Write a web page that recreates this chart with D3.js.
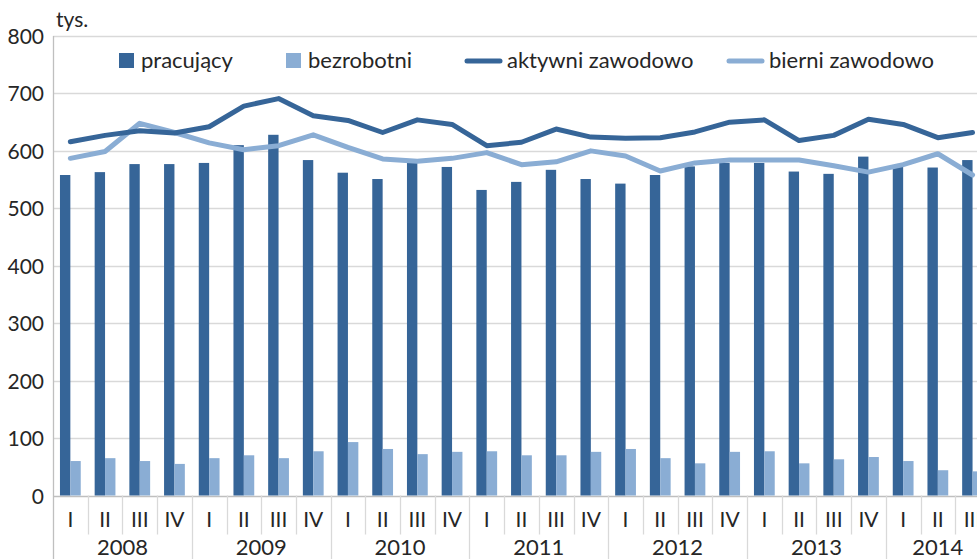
<!DOCTYPE html>
<html>
<head>
<meta charset="utf-8">
<script src="https://cdn.jsdelivr.net/npm/d3@7"></script>
<style>
  body { margin: 0; background: #fff; }
  svg { display: block; font-family: Lato, "Open Sans", sans-serif; }
</style>
</head>
<body>
<div id="vis"></div>
<script>
// frame
const FRAME_WIDTH = 977;
const FRAME_HEIGHT = 559;
const MARGINS = {left: 53, top: 36, bottom: 63};
const BAND = 34.7;

// data (tys.)
const years = ["2008", "2009", "2010", "2011", "2012", "2013", "2014"];
const quarters = ["I", "II", "III", "IV"];
const categories = [];
years.forEach(y => quarters.forEach(q => categories.push(y + " " + q)));
categories.splice(27); // 2014: I-III only

const pracujacy = [558, 563, 577, 577, 579, 610, 628, 584, 562, 551, 579, 572,
                   532, 546, 567, 551, 543, 558, 573, 579, 579, 564, 560, 590,
                   573, 571, 584];
const bezrobotni = [60, 65, 60, 55, 65, 70, 65, 77, 93, 81, 72, 76,
                    77, 70, 70, 76, 81, 65, 56, 76, 77, 56, 63, 67,
                    60, 44, 42];
const aktywni = [616, 627, 635, 631, 642, 678, 691, 661, 653, 632, 654, 646,
                 609, 615, 638, 624, 622, 623, 633, 650, 654, 618, 627, 655,
                 646, 623, 632];
const bierni = [587, 599, 648, 632, 614, 602, 609, 628, 606, 586, 582, 587,
                597, 576, 581, 600, 591, 565, 579, 584, 584, 584, 574, 563,
                576, 595, 558];
const yTicks = [0, 100, 200, 300, 400, 500, 600, 700, 800];

const DARK = "#366598";
const LIGHT = "#8AADD4";
const TEXT = "#262626";

const FRAME = d3.select("#vis").append("svg")
  .attr("width", FRAME_WIDTH)
  .attr("height", FRAME_HEIGHT);

const X_SCALE = d3.scaleBand()
  .domain(categories)
  .range([MARGINS.left, MARGINS.left + BAND * categories.length]);

const X_SUB = d3.scaleBand()
  .domain(["p", "b"])
  .range([0, BAND])
  .paddingOuter(0.67);

const Y_SCALE = d3.scaleLinear()
  .domain([0, 800])
  .range([FRAME_HEIGHT - MARGINS.bottom - 0.5, MARGINS.top]);

// gridlines
FRAME.append("g")
  .selectAll("line")
  .data(yTicks)
  .enter()
  .append("line")
    .attr("x1", MARGINS.left)
    .attr("x2", FRAME_WIDTH)
    .attr("y1", d => Math.round(Y_SCALE(d)) + 0.5)
    .attr("y2", d => Math.round(Y_SCALE(d)) + 0.5)
    .attr("stroke", d => d === 0 ? "#BFBFBF" : "#D9D9D9")
    .attr("stroke-width", 1.3);

// y tick labels
FRAME.append("g")
  .selectAll("text")
  .data(yTicks)
  .enter()
  .append("text")
    .attr("x", 44)
    .attr("y", d => Y_SCALE(d) + 8)
    .attr("text-anchor", "end")
    .attr("font-size", 21)
    .attr("fill", TEXT)
    .text(d => d);

FRAME.append("text")
  .attr("x", 56)
  .attr("y", 27)
  .attr("font-size", 21)
  .attr("fill", TEXT)
  .text("tys.");

// bars
FRAME.append("g")
  .selectAll("rect")
  .data(pracujacy)
  .enter()
  .append("rect")
    .attr("x", (d, i) => X_SCALE(categories[i]) + X_SUB("p"))
    .attr("y", d => Y_SCALE(d))
    .attr("width", X_SUB.bandwidth())
    .attr("height", d => Y_SCALE(0) - Y_SCALE(d))
    .attr("fill", DARK);

FRAME.append("g")
  .selectAll("rect")
  .data(bezrobotni)
  .enter()
  .append("rect")
    .attr("x", (d, i) => X_SCALE(categories[i]) + X_SUB("b"))
    .attr("y", d => Y_SCALE(d))
    .attr("width", X_SUB.bandwidth())
    .attr("height", d => Y_SCALE(0) - Y_SCALE(d))
    .attr("fill", LIGHT);

// lines
const line = d3.line()
  .x((d, i) => X_SCALE(categories[i]) + BAND / 2)
  .y(d => Y_SCALE(d));

FRAME.append("path")
  .datum(bierni)
  .attr("d", line)
  .attr("fill", "none")
  .attr("stroke", LIGHT)
  .attr("stroke-width", 5)
  .attr("stroke-linejoin", "round")
  .attr("stroke-linecap", "round");

FRAME.append("path")
  .datum(aktywni)
  .attr("d", line)
  .attr("fill", "none")
  .attr("stroke", DARK)
  .attr("stroke-width", 5)
  .attr("stroke-linejoin", "round")
  .attr("stroke-linecap", "round");

// left axis line
FRAME.append("line")
  .attr("x1", MARGINS.left + 0.5).attr("x2", MARGINS.left + 0.5)
  .attr("y1", MARGINS.top).attr("y2", FRAME_HEIGHT)
  .attr("stroke", "#BFBFBF")
  .attr("stroke-width", 1.3);

// category separators and labels
const y0 = Y_SCALE(0);
FRAME.append("g")
  .selectAll("line")
  .data(categories.slice(1))
  .enter()
  .append("line")
    .attr("x1", d => Math.round(X_SCALE(d)) + 0.5)
    .attr("x2", d => Math.round(X_SCALE(d)) + 0.5)
    .attr("y1", y0)
    .attr("y2", d => d.endsWith(" I") ? FRAME_HEIGHT : y0 + 39)
    .attr("stroke", "#D9D9D9")
    .attr("stroke-width", 1.3);

FRAME.append("g")
  .selectAll("text")
  .data(categories)
  .enter()
  .append("text")
    .attr("x", d => X_SCALE(d) + BAND / 2)
    .attr("y", y0 + 31)
    .attr("text-anchor", "middle")
    .attr("font-size", 21)
    .attr("fill", TEXT)
    .text(d => d.split(" ")[1]);

FRAME.append("g")
  .selectAll("text")
  .data(years)
  .enter()
  .append("text")
    .attr("x", y => {
      const cats = categories.filter(c => c.startsWith(y));
      return X_SCALE(cats[0]) + BAND * cats.length / 2;
    })
    .attr("y", y0 + 59)
    .attr("text-anchor", "middle")
    .attr("font-size", 22)
    .attr("fill", TEXT)
    .text(y => y);

// legend
const LEGEND = FRAME.append("g").attr("font-size", 22).attr("fill", TEXT);
LEGEND.append("rect").attr("x", 119).attr("y", 53).attr("width", 15).attr("height", 15).attr("fill", DARK);
LEGEND.append("text").attr("x", 141).attr("y", 68).text("pracujący");
LEGEND.append("rect").attr("x", 286).attr("y", 53).attr("width", 15).attr("height", 15).attr("fill", LIGHT);
LEGEND.append("text").attr("x", 308).attr("y", 68).text("bezrobotni");
LEGEND.append("line").attr("x1", 467).attr("x2", 500).attr("y1", 61).attr("y2", 61)
  .attr("stroke", DARK).attr("stroke-width", 5).attr("stroke-linecap", "round");
LEGEND.append("text").attr("x", 507).attr("y", 68).text("aktywni zawodowo");
LEGEND.append("line").attr("x1", 729).attr("x2", 762).attr("y1", 61).attr("y2", 61)
  .attr("stroke", LIGHT).attr("stroke-width", 5).attr("stroke-linecap", "round");
LEGEND.append("text").attr("x", 769).attr("y", 68).text("bierni zawodowo");
</script>
</body>
</html>
